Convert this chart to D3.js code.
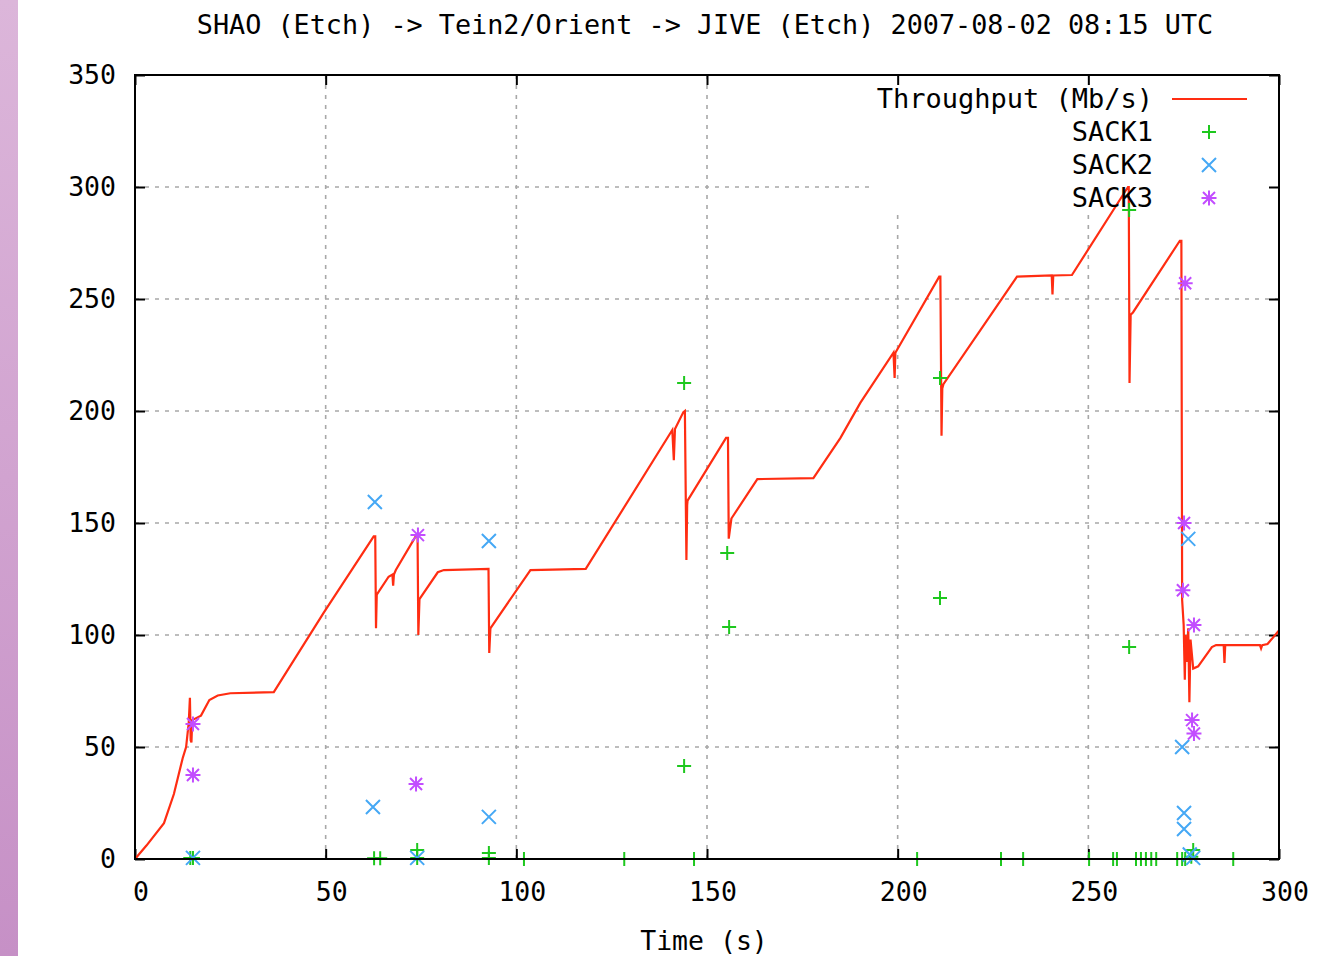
<!DOCTYPE html>
<html>
<head>
<meta charset="utf-8">
<script src="https://cdn.jsdelivr.net/npm/d3@7"></script>
<style>
  body { margin: 0; background: #fff; }
  svg { display: block; }
  text { font-family: "DejaVu Sans Mono", "Liberation Mono", monospace; fill: #000; }
</style>
</head>
<body>
<div id="chart"></div>
<script>
// data
const title = 'SHAO (Etch) -> Tein2/Orient -> JIVE (Etch) 2007-08-02 08:15 UTC';
const xTicks = [0, 50, 100, 150, 200, 250, 300];
const yTicks = [0, 50, 100, 150, 200, 250, 300, 350];
const seriesNames = ['Throughput (Mb/s)', 'SACK1', 'SACK2', 'SACK3'];

// throughput [time s, Mb/s]
const throughput = [
  [0, 0], [3, 6], [7.6, 16], [10.2, 29], [12.5, 45], [13.4, 50], [14.1, 61],
  [14.4, 72], [14.6, 53], [14.8, 52], [15.0, 62], [17.3, 64], [19.5, 71], [21.7, 73],
  [25, 74], [36.4, 74.5], [49.5, 110], [62.6, 144], [63.0, 144], [63.2, 103],
  [63.4, 118], [66.5, 126], [67.5, 127], [67.7, 122], [67.9, 127], [68.4, 129],
  [73.6, 144], [74.1, 144], [74.3, 100], [74.6, 116], [79.4, 128], [81, 129],
  [92.7, 129.5], [92.9, 92], [93.2, 103], [94, 105], [103.7, 129], [118.2, 129.5],
  [140.9, 191.5], [141.3, 178], [141.6, 192], [143.8, 199.5], [144.2, 200],
  [144.6, 133.5], [144.8, 158], [144.9, 160], [155, 188], [155.5, 188],
  [155.7, 143], [156.4, 152], [163.2, 169.6], [177.9, 170], [185, 188],
  [190.2, 203.6], [198.9, 226], [199.2, 214.7], [199.4, 226], [210.9, 260],
  [211.2, 260], [211.5, 189], [211.7, 210], [212, 212], [231.3, 260],
  [240.4, 260.5], [240.6, 252], [240.8, 260.5], [245.7, 260.7], [260.4, 300],
  [260.6, 300], [260.8, 212.5], [261.1, 243], [261.7, 244], [274, 276],
  [274.4, 276], [274.6, 115.6], [275.0, 104.5], [275.3, 80], [275.5, 100],
  [275.8, 88], [276.2, 103], [276.5, 70], [276.8, 98], [277.5, 85], [278.8, 86],
  [282.4, 94.6], [283.5, 95.5], [285.5, 95.5], [285.7, 87.5], [285.9, 95.5],
  [295, 95.5], [295.3, 94], [295.6, 95.5], [297, 96], [299.5, 101], [300, 102]
];

const sack1 = [
  [14.5, 0.5], [15.2, 0.5], [62.7, 0.3], [64.3, 0.3], [74, 4], [74, 0.5],
  [92.8, 2.7], [92.8, 0.5], [102, 0], [128.3, 0], [144, 212.5], [144, 41.5],
  [146.6, 0], [155.3, 136.6], [155.8, 103.6], [205.1, 0], [211.1, 214.7],
  [211.1, 116.5], [227.1, 0], [232.9, 0], [250.2, 0], [256.5, 0], [257.5, 0],
  [260.7, 289.7], [260.7, 94.6], [262.5, 0], [263.8, 0], [265.1, 0], [266.5, 0],
  [267.8, 0], [273.3, 0], [274.6, 0], [275.4, 0], [277.5, 4], [277.0, 1], [288, 0]
];

const sack2 = [
  [15.2, 0.5], [62.9, 159.4], [62.4, 23.2], [74, 0.5], [92.8, 142], [92.8, 18.8],
  [274.6, 50], [275.1, 20.5], [275.1, 13.4], [276.2, 142.9], [276.6, 2], [277.5, 0.5]
];

const sack3 = [
  [15.2, 60.3], [15.2, 37.5], [74.2, 144.6], [73.7, 33.5], [275.4, 257],
  [275.1, 150], [274.8, 120], [277.7, 104.5], [277.2, 62], [277.7, 56]
];

// config
const width = 1322, height = 956;
const plot = { left: 135, right: 1279, top: 75, bottom: 859 };
const colors = { line: '#ff2d12', sack1: '#1ec81e', sack2: '#45a8f5', sack3: '#c24dff', grid: '#a8a8a8' };
const fontSize = 26.5;

const x = d3.scaleLinear().domain([0, 300]).range([plot.left, plot.right]);
const y = d3.scaleLinear().domain([0, 350]).range([plot.bottom, plot.top]);

const svg = d3.select('#chart')
  .append('svg')
  .attr('width', width)
  .attr('height', height);

// purple strip on the left
const grad = svg.append('defs').append('linearGradient')
  .attr('id', 'strip').attr('x1', 0).attr('y1', 0).attr('x2', 0).attr('y2', 1);
grad.append('stop').attr('offset', '0%').attr('stop-color', '#dcb6da');
grad.append('stop').attr('offset', '100%').attr('stop-color', '#c690c6');
svg.append('rect').attr('x', 0).attr('y', 0).attr('width', 18).attr('height', height)
  .attr('fill', 'url(#strip)');

// title
svg.append('text')
  .attr('x', 705).attr('y', 34)
  .attr('text-anchor', 'middle')
  .attr('font-size', 26.8)
  .text(title);

// grid
const grid = svg.append('g').attr('class', 'grid')
  .attr('stroke', colors.grid).attr('stroke-width', 1.6).attr('stroke-dasharray', '4,6');
grid.selectAll('line.v')
  .data(xTicks.filter(d => d > 0 && d < 300))
  .enter().append('line')
  .attr('x1', d => x(d)).attr('x2', d => x(d))
  .attr('y1', plot.bottom).attr('y2', plot.top);
grid.selectAll('line.h')
  .data(yTicks.filter(d => d > 0 && d < 350))
  .enter().append('line')
  .attr('x1', plot.left).attr('x2', plot.right)
  .attr('y1', d => y(d)).attr('y2', d => y(d));

// legend box hides the grid
svg.append('rect')
  .attr('x', 872).attr('y', plot.top + 1)
  .attr('width', plot.right - 872).attr('height', 136)
  .attr('fill', '#fff');

// axes (ticks inward, mirrored)
const axisG = svg.append('g').attr('class', 'axes');
const bottomAxis = d3.axisBottom(x).tickValues(xTicks).tickSize(-10).tickFormat('');
const topAxis = d3.axisTop(x).tickValues(xTicks).tickSize(-10).tickFormat('');
const leftAxis = d3.axisLeft(y).tickValues(yTicks).tickSize(-10).tickFormat('');
const rightAxis = d3.axisRight(y).tickValues(yTicks).tickSize(-10).tickFormat('');
[[bottomAxis, `translate(0,${plot.bottom})`], [topAxis, `translate(0,${plot.top})`],
 [leftAxis, `translate(${plot.left},0)`], [rightAxis, `translate(${plot.right},0)`]]
  .forEach(([ax, tr]) => {
    const g = axisG.append('g').attr('transform', tr).call(ax);
    g.select('.domain').remove();
    g.selectAll('line').attr('stroke', '#000').attr('stroke-width', 2);
  });

// tick labels
svg.append('g').selectAll('text')
  .data(xTicks).enter().append('text')
  .attr('x', d => x(d) + 6).attr('y', 901)
  .attr('text-anchor', 'middle')
  .attr('font-size', fontSize)
  .text(d => d);
svg.append('g').selectAll('text')
  .data(yTicks).enter().append('text')
  .attr('x', 116).attr('y', d => y(d) + 9)
  .attr('text-anchor', 'end')
  .attr('font-size', fontSize)
  .text(d => d);

// axis label
svg.append('text')
  .attr('x', 704).attr('y', 950)
  .attr('text-anchor', 'middle')
  .attr('font-size', fontSize)
  .text('Time (s)');

// markers
const plus = s => (d) => `M${x(d[0]) - s},${y(d[1])}H${x(d[0]) + s}M${x(d[0])},${y(d[1]) - s}V${y(d[1]) + s}`;
const cross = s => (d) => `M${x(d[0]) - s},${y(d[1]) - s}L${x(d[0]) + s},${y(d[1]) + s}M${x(d[0]) - s},${y(d[1]) + s}L${x(d[0]) + s},${y(d[1]) - s}`;
const star = s => (d) => plus(s)(d) + cross(s * 0.8)(d);

// throughput line
const line = d3.line().x(d => x(d[0])).y(d => y(d[1]));
svg.append('path')
  .datum(throughput)
  .attr('d', line)
  .attr('fill', 'none')
  .attr('stroke', colors.line)
  .attr('stroke-width', 2.2)
  .attr('stroke-linejoin', 'miter');

[[sack1, plus(7), colors.sack1], [sack2, cross(7), colors.sack2], [sack3, star(7.5), colors.sack3]]
  .forEach(([data, shape, color]) => {
    svg.append('g').selectAll('path')
      .data(data).enter().append('path')
      .attr('d', shape)
      .attr('fill', 'none')
      .attr('stroke', color)
      .attr('stroke-width', 2);
  });

// frame
svg.append('rect')
  .attr('x', plot.left).attr('y', plot.top)
  .attr('width', plot.right - plot.left).attr('height', plot.bottom - plot.top)
  .attr('fill', 'none').attr('stroke', '#000').attr('stroke-width', 2);

// legend
const legend = svg.append('g').attr('class', 'legend');
const legendY = [99, 132, 165, 198];
legend.selectAll('text')
  .data(seriesNames).enter().append('text')
  .attr('x', 1153).attr('y', (d, i) => legendY[i] + 9)
  .attr('text-anchor', 'end')
  .attr('font-size', fontSize + 0.5)
  .text(d => d);
legend.append('line')
  .attr('x1', 1172).attr('x2', 1247).attr('y1', legendY[0]).attr('y2', legendY[0])
  .attr('stroke', colors.line).attr('stroke-width', 2.2);
const lx = x.invert(1209);
[[plus(7), colors.sack1], [cross(7), colors.sack2], [star(7.5), colors.sack3]]
  .forEach(([shape, color], i) => {
    legend.append('path')
      .attr('d', shape([lx, y.invert(legendY[i + 1])]))
      .attr('fill', 'none').attr('stroke', color).attr('stroke-width', 2);
  });
</script>
</body>
</html>
